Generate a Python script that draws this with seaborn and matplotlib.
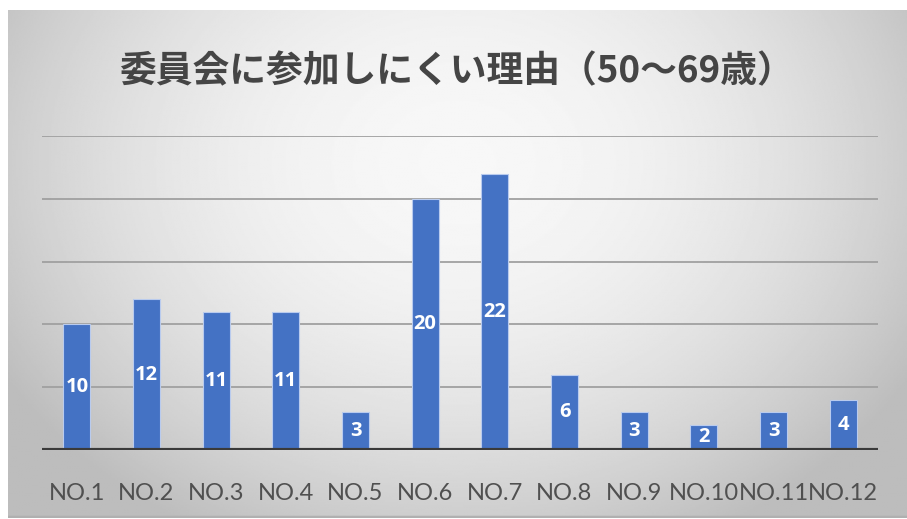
import numpy as np
import pandas as pd
import matplotlib
matplotlib.use("Agg")
import matplotlib.pyplot as plt
import seaborn as sns

categories = ["NO.1", "NO.2", "NO.3", "NO.4", "NO.5", "NO.6",
              "NO.7", "NO.8", "NO.9", "NO.10", "NO.11", "NO.12"]
values = [10, 12, 11, 11, 3, 20, 22, 6, 3, 2, 3, 4]
grid_ticks = [5, 10, 15, 20, 25]
title = "委員会に参加しにくい理由（50〜69歳）"

sns.set_theme(style="white")
plt.rcParams['font.family'] = ['Noto Sans CJK JP', 'DejaVu Sans']

W, H = 907, 519
fig = plt.figure(figsize=(W / 100, H / 100), dpi=100, facecolor="white")

# background gradient panel
bg = fig.add_axes([8 / W, 1 / H, (W - 8) / W, (H - 11) / H])
yy, xx = np.mgrid[0:1:300j, 0:1:600j]
r2 = ((xx - 0.5) / 0.6) ** 2 + ((yy - 0.3) / 0.85) ** 2
img = np.clip(0.97 - 0.24 * r2, 0.74, 0.98)
bg.imshow(img, cmap="gray", vmin=0, vmax=1, aspect="auto",
          extent=[0, 1, 1, 0], interpolation="bilinear")
bg.plot([0, 1], [0.002, 0.002], color="#b0b0b0", lw=2.5, transform=bg.transAxes)
bg.set_xlim(0, 1)
bg.set_ylim(1, 0)
bg.axis("off")

ax = fig.add_axes([42 / W, (H - 450) / H, (878 - 42) / W, (450 - 136) / H])
ax.patch.set_alpha(0)
df = pd.DataFrame({"cat": categories, "val": values})
sns.barplot(data=df, x="cat", y="val", ax=ax, color="#4472C4", saturation=1,
            width=0.39, edgecolor="#b9cbee", linewidth=0.8, zorder=3)
ax.set_ylim(0, 25)
ax.set_xlim(-0.5, len(categories) - 0.5)
for t in grid_ticks:
    ax.axhline(t, color="#a0a0a0", lw=1.3, zorder=1)
ax.axhline(0, color="#3a3a3a", lw=3, zorder=4)
ax.set_yticks([])
ax.set_xlabel("")
ax.set_ylabel("")
for s in ax.spines.values():
    s.set_visible(False)
ax.tick_params(axis="x", length=0, pad=24, labelsize=17, labelcolor="#505050")
for lbl in ax.get_xticklabels():
    lbl.set_fontfamily(["Lato", "DejaVu Sans"])

for container in ax.containers:
    ax.bar_label(container, labels=[str(v) for v in values], label_type="center",
                 color="white", fontsize=14.5, fontweight="bold",
                 fontfamily=["Open Sans", "DejaVu Sans"], zorder=5)

fig.text(456 / W, 1 - 72 / H, title, ha="center", va="center",
         fontsize=26.5, fontweight="bold", color="#454545")

fig.savefig("out.png", dpi=100, facecolor="white")
